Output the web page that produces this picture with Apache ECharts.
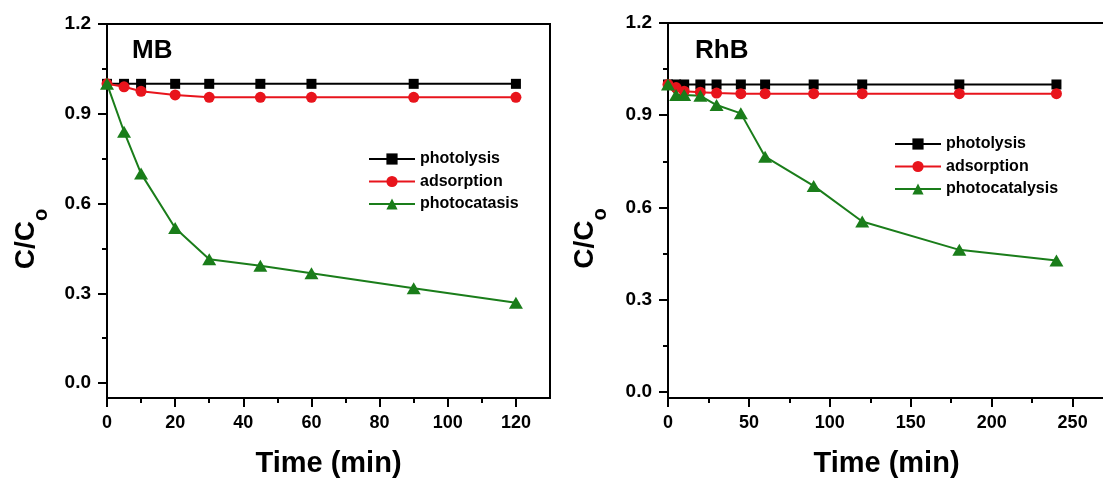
<!DOCTYPE html>
<html>
<head>
<meta charset="utf-8">
<script src="https://cdn.jsdelivr.net/npm/echarts@6/dist/echarts.min.js"></script>
<style>
html,body{margin:0;padding:0;background:#fff;}
#chart{width:1103px;height:480px;}
</style>
</head>
<body>
<div id="chart"></div>
<script>
// ---- Data ----
const mbTime = [0, 5, 10, 20, 30, 45, 60, 90, 120];
const mbPhotolysis = [1.0, 1.0, 1.0, 1.0, 1.0, 1.0, 1.0, 1.0, 1.0];
const mbAdsorption = [1.0, 0.99, 0.975, 0.963, 0.955, 0.955, 0.955, 0.955, 0.955];
const mbPhotocatalysis = [1.0, 0.84, 0.70, 0.518, 0.414, 0.392, 0.367, 0.317, 0.268];

const rhbTime = [0, 5, 10, 20, 30, 45, 60, 90, 120, 180, 240];
const rhbPhotolysis = [1.0, 1.0, 1.0, 1.0, 1.0, 1.0, 1.0, 1.0, 1.0, 1.0, 1.0];
const rhbAdsorption = [1.0, 0.99, 0.978, 0.975, 0.972, 0.97, 0.97, 0.97, 0.97, 0.97, 0.97];
const rhbPhotocatalysis = [1.0, 0.966, 0.966, 0.963, 0.933, 0.906, 0.765, 0.670, 0.554, 0.462, 0.427];

const mbLegend = ['photolysis', 'adsorption', 'photocatasis'];
const rhbLegend = ['photolysis', 'adsorption', 'photocatalysis'];

const yTicks = [0, 0.3, 0.6, 0.9, 1.2];
const yMinor = [0.15, 0.45, 0.75, 1.05];
const mbXTicks = [0, 20, 40, 60, 80, 100, 120];
const mbXMinor = [10, 30, 50, 70, 90, 110];
const rhbXTicks = [0, 50, 100, 150, 200, 250];
const rhbXMinor = [25, 75, 125, 175, 225];

// ---- Styles ----
const FF = 'Liberation Sans, Arial, sans-serif';
const BLACK = '#000000', RED = '#e8141c', GREEN = '#1a7d1a';
const zip = (xs, ys) => xs.map((x, i) => [x, ys[i]]);

const grids = [
  {left: 107, top: 24, width: 443, height: 374},
  {left: 668, top: 23, width: 437, height: 375}
];

function mainX(idx, max, ticks) {
  return {
    type: 'value', gridIndex: idx, min: 0, max: max,
    name: 'Time (min)', nameLocation: 'middle', nameGap: 51,
    nameTextStyle: {fontSize: 29, fontWeight: 'bold', color: BLACK, fontFamily: FF},
    axisLine: {show: true, onZero: false, lineStyle: {color: BLACK, width: 2}},
    axisTick: {show: true, customValues: ticks, length: 9, lineStyle: {color: BLACK, width: 2}},
    axisLabel: {customValues: ticks, margin: 16, fontSize: 18, fontWeight: 'bold', color: BLACK, fontFamily: FF},
    splitLine: {show: false}
  };
}
function mainY(idx, min, gap) {
  return {
    type: 'value', gridIndex: idx, min: min, max: 1.2,
    name: 'C/C{s|o}', nameLocation: 'middle', nameGap: gap,
    nameTextStyle: {
      fontSize: 28, fontWeight: 'bold', color: BLACK, fontFamily: FF, padding: [0, 56, 0, 0],
      rich: {s: {fontSize: 20, fontWeight: 'bold', color: BLACK, fontFamily: FF, padding: [30, 0, 0, 0]}}
    },
    axisLine: {show: true, onZero: false, lineStyle: {color: BLACK, width: 2}},
    axisTick: {show: true, customValues: yTicks, length: 9, lineStyle: {color: BLACK, width: 2}},
    axisLabel: {customValues: yTicks, margin: 16, fontSize: 19, fontWeight: 'bold', color: BLACK, fontFamily: FF,
      formatter: v => v.toFixed(1)},
    splitLine: {show: false}
  };
}
function minorX(idx, max, minors) {
  return {
    type: 'value', gridIndex: idx, min: 0, max: max,
    axisLine: {show: false, onZero: false}, axisLabel: {show: false}, splitLine: {show: false},
    axisTick: {show: true, customValues: minors, length: 5, lineStyle: {color: BLACK, width: 2}}
  };
}
function minorY(idx, min) {
  return {
    type: 'value', gridIndex: idx, min: min, max: 1.2,
    axisLine: {show: false, onZero: false}, axisLabel: {show: false}, splitLine: {show: false},
    axisTick: {show: true, customValues: yMinor, length: 5, lineStyle: {color: BLACK, width: 2}}
  };
}
function ser(name, x, y, color, symbol, size, xi) {
  return {
    type: 'line', name: name, xAxisIndex: xi, yAxisIndex: xi, data: zip(x, y),
    symbol: symbol, symbolSize: size, showSymbol: true,
    lineStyle: {color: color, width: 2}, itemStyle: {color: color},
    emphasis: {disabled: true}
  };
}
function legend(names, left, top) {
  return {
    data: names, orient: 'vertical', left: left, top: top, padding: 0,
    itemWidth: 46, itemHeight: 14, itemGap: 6.5, selectedMode: false,
    textStyle: {fontSize: 16, fontWeight: 'bold', color: BLACK, fontFamily: FF}
  };
}
const gridBase = {outerBoundsMode: 'none', containLabel: false};

const chart = echarts.init(document.getElementById('chart'), null, {renderer: 'canvas'});
chart.setOption({
  animation: false,
  backgroundColor: '#ffffff',
  title: [
    {text: 'MB', left: 132, top: 38, padding: 0, textStyle: {fontSize: 26, fontWeight: 'bold', color: BLACK, fontFamily: FF}},
    {text: 'RhB', left: 695, top: 38, padding: 0, textStyle: {fontSize: 26, fontWeight: 'bold', color: BLACK, fontFamily: FF}}
  ],
  grid: [
    Object.assign({show: true, borderColor: BLACK, borderWidth: 2, backgroundColor: 'transparent'}, gridBase, grids[0]),
    Object.assign({show: true, borderColor: BLACK, borderWidth: 2, backgroundColor: 'transparent'}, gridBase, grids[1]),
    Object.assign({show: false}, gridBase, grids[0]),
    Object.assign({show: false}, gridBase, grids[1])
  ],
  xAxis: [
    mainX(0, 130, mbXTicks), mainX(1, 270, rhbXTicks),
    minorX(2, 130, mbXMinor), minorX(3, 270, rhbXMinor)
  ],
  yAxis: [
    mainY(0, -0.05, 56), mainY(1, -0.02, 58),
    minorY(2, -0.05), minorY(3, -0.02)
  ],
  legend: [legend(mbLegend, 368, 151), legend(rhbLegend, 894, 136)],
  series: [
    ser('photolysis', mbTime, mbPhotolysis, BLACK, 'rect', 10, 0),
    ser('adsorption', mbTime, mbAdsorption, RED, 'circle', 11, 0),
    ser('photocatasis', mbTime, mbPhotocatalysis, GREEN, 'triangle', [14, 12], 0),
    ser('photolysis', rhbTime, rhbPhotolysis, BLACK, 'rect', 10, 1),
    ser('adsorption', rhbTime, rhbAdsorption, RED, 'circle', 11, 1),
    ser('photocatalysis', rhbTime, rhbPhotocatalysis, GREEN, 'triangle', [14, 12], 1)
  ]
});
</script>
</body>
</html>
